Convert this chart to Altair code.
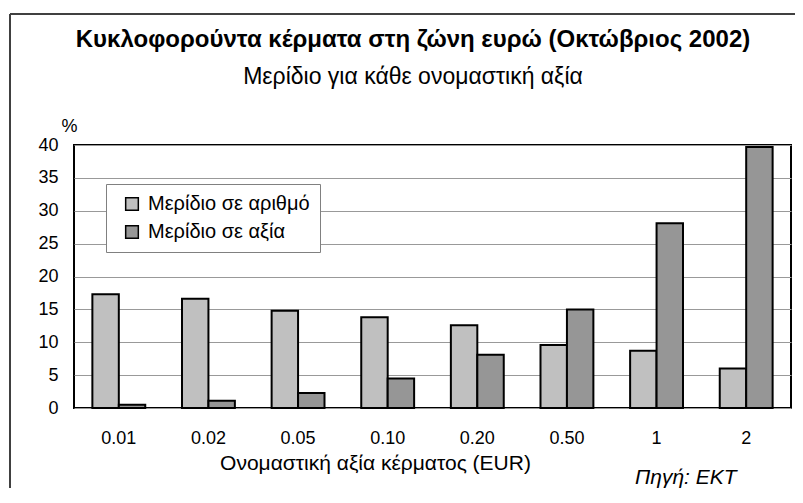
import altair as alt
import pandas as pd

denominations = ["0.01", "0.02", "0.05", "0.10", "0.20", "0.50", "1", "2"]
share_by_number = [17.3, 16.6, 14.8, 13.8, 12.6, 9.6, 8.7, 6.0]
share_by_value = [0.5, 1.1, 2.3, 4.5, 8.1, 15.0, 28.1, 39.7]
series_names = ["Μερίδιο σε αριθμό", "Μερίδιο σε αξία"]
y_ticks = [0, 5, 10, 15, 20, 25, 30, 35, 40]
title_text = "Κυκλοφορούντα κέρματα στη ζώνη ευρώ (Οκτώβριος 2002)"
subtitle_text = "Μερίδιο για κάθε ονομαστική αξία"
source_text = "Πηγή: ΕΚΤ"

rows = []
for d, a, b in zip(denominations, share_by_number, share_by_value):
    rows.append({"denom": d, "series": series_names[0], "value": a})
    rows.append({"denom": d, "series": series_names[1], "value": b})
df = pd.DataFrame(rows)

FONT = "Liberation Sans"
W, H = 717, 263

bars = alt.Chart(df).mark_bar(stroke="black", strokeWidth=2).encode(
    x=alt.X("denom:N", sort=denominations,
            scale=alt.Scale(paddingInner=0.41, paddingOuter=0.205),
            axis=alt.Axis(title="Ονομαστική αξία κέρματος  (EUR)", labelAngle=0,
                          labelFontSize=18, labelFont=FONT, labelColor="black",
                          labelPadding=21, ticks=False, domain=False,
                          titleFont=FONT, titleFontSize=21, titleFontWeight="normal",
                          titleColor="black", titleX=301, titleY=61,
                          titleAnchor="middle", titleBaseline="alphabetic")),
    xOffset=alt.XOffset("series:N", sort=series_names),
    y=alt.Y("value:Q", scale=alt.Scale(domain=[0, 40], nice=False),
            axis=alt.Axis(values=y_ticks, title="%", titleAngle=0,
                          titleX=-5, titleY=-10, titleAlign="center",
                          titleFont=FONT, titleFontSize=18, titleFontWeight="normal",
                          titleColor="black", labelFont=FONT, labelFontSize=18,
                          labelColor="black", labelPadding=16, ticks=False,
                          domain=False, gridColor="#999999", gridWidth=1.2)),
    color=alt.Color("series:N", sort=series_names,
                    scale=alt.Scale(domain=series_names, range=["#c0c0c0", "#969696"]),
                    legend=alt.Legend(title=None, orient="none", legendX=32, legendY=39,
                                      direction="vertical", symbolType="square",
                                      symbolSize=160, symbolStrokeColor="black",
                                      symbolStrokeWidth=1.5, symbolOpacity=1,
                                      labelFont=FONT, labelFontSize=20, labelLimit=400,
                                      labelColor="black", rowPadding=8,
                                      padding=10, strokeColor="#808080",
                                      fillColor="white", labelOffset=6,
                                      symbolOffset=6)),
)

frame_left = alt.Chart(df).mark_rule(color="#404040", strokeWidth=1.5).encode(
    x=alt.value(-64), y=alt.value(-131), y2=alt.value(360))
frame_top = alt.Chart(df).mark_rule(color="#404040", strokeWidth=1.5).encode(
    x=alt.value(-64), x2=alt.value(760), y=alt.value(-131))

title = alt.Chart(pd.DataFrame({"t": [title_text]})).mark_text(
    font=FONT, fontSize=24, fontWeight="bold", align="center", baseline="alphabetic",
    color="black").encode(text="t:N", x=alt.value(339), y=alt.value(-98))
subtitle = alt.Chart(pd.DataFrame({"t": [subtitle_text]})).mark_text(
    font=FONT, fontSize=23, align="center", baseline="alphabetic",
    color="black").encode(text="t:N", x=alt.value(339), y=alt.value(-61))
source = alt.Chart(pd.DataFrame({"t": [source_text]})).mark_text(
    font=FONT, fontSize=21, fontStyle="italic", align="left", baseline="alphabetic",
    color="black").encode(text="t:N", x=alt.value(561), y=alt.value(339))

chart = alt.layer(frame_left, frame_top, bars, title, subtitle, source).properties(
    width=W, height=H,
    padding={"left": 66, "top": 137, "right": 4, "bottom": 80},
    autosize=alt.AutoSizeParams(type="none"),
).configure_view(stroke="black", strokeWidth=2)

chart.save("out.html", embed_options={"renderer": "svg", "actions": False})
